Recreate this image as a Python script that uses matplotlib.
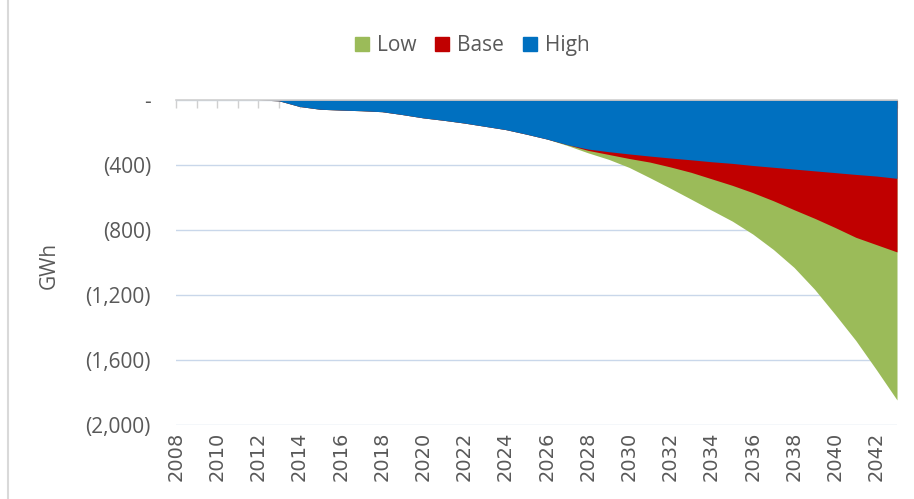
import numpy as np
import matplotlib.pyplot as plt
from matplotlib.ticker import FuncFormatter
from matplotlib.lines import Line2D

years = np.arange(2008, 2044)

# GWh (2008 .. 2043)
high = [0, 0, 0, 0, 0, -5, -40, -57, -62, -66, -72, -90, -110, -125, -142, -162,
        -182, -210, -240, -275, -302, -318, -332, -345, -357, -368, -380, -390,
        -403, -414, -425, -436, -447, -458, -468, -482]
base = [0, 0, 0, 0, 0, -5, -40, -57, -62, -66, -72, -90, -110, -125, -142, -162,
        -182, -210, -240, -275, -310, -335, -360, -382, -412, -445, -485, -525,
        -570, -620, -675, -728, -785, -845, -890, -935]
low = [0, 0, 0, 0, 0, -5, -40, -57, -62, -66, -72, -90, -110, -125, -142, -162,
       -182, -210, -240, -280, -325, -365, -415, -478, -543, -610, -678, -745,
       -825, -920, -1030, -1165, -1320, -1480, -1660, -1846]

labels = ['Low', 'Base', 'High']
colors = ['#9bbb59', '#c00000', '#0070c0']
txt = '#595959'

plt.rcParams['font.family'] = ['Open Sans', 'DejaVu Sans']

fig = plt.figure(figsize=(9.14, 4.99), dpi=100)
ax = fig.add_axes([176/914, 1 - 425/499, 721/914, 325/499])

for vals, c in zip([low, base, high], colors):
    ax.fill_between(years, vals, 0, color=c, lw=0)

ax.set_xlim(2008, 2043)
ax.set_ylim(-2000, 0)
ax.set_yticks(np.arange(-2000, 1, 400))
ax.yaxis.set_major_formatter(FuncFormatter(lambda v, p: '-' if v == 0 else f'({abs(v):,.0f})'))
ax.yaxis.grid(True, color='#c9d7ea', lw=1)
ax.set_axisbelow(True)

ax.set_xticks(np.arange(2008, 2043, 2))
ax.set_xticks(years, minor=True)
ax.tick_params(axis='x', which='both', bottom=False, top=True, direction='in',
               length=6, color='#d0d0d0', width=1)
ax.tick_params(axis='x', which='major', labelbottom=True, labelrotation=90,
               labelsize=14, labelcolor=txt, pad=5)
for t in ax.get_xticklabels():
    t.set_family('DejaVu Sans')
ax.tick_params(axis='y', length=0, labelsize=15, labelcolor=txt, pad=18)

for s in ['left', 'right', 'bottom']:
    ax.spines[s].set_visible(False)
ax.spines['top'].set_color('#d0d0d0')
ax.spines['top'].set_linewidth(1.2)

ax.set_ylabel('GWh', fontsize=15, color=txt)
ax.yaxis.set_label_coords(-0.161, 0.49)

handles = [Line2D([], [], marker='s', ls='', markersize=10.5, color=c) for c in colors]
fig.legend(handles, labels, loc='center', bbox_to_anchor=(0.516, 0.908), ncol=3,
           frameon=False, fontsize=15, labelcolor=txt, handlelength=0.8,
           handletextpad=0.3, columnspacing=0.85)

# chart frame edge on the left
fig.add_artist(Line2D([8/914, 8/914], [0, 1], color='#d9d9d9', lw=1.5))

fig.savefig('out.png', dpi=100)
